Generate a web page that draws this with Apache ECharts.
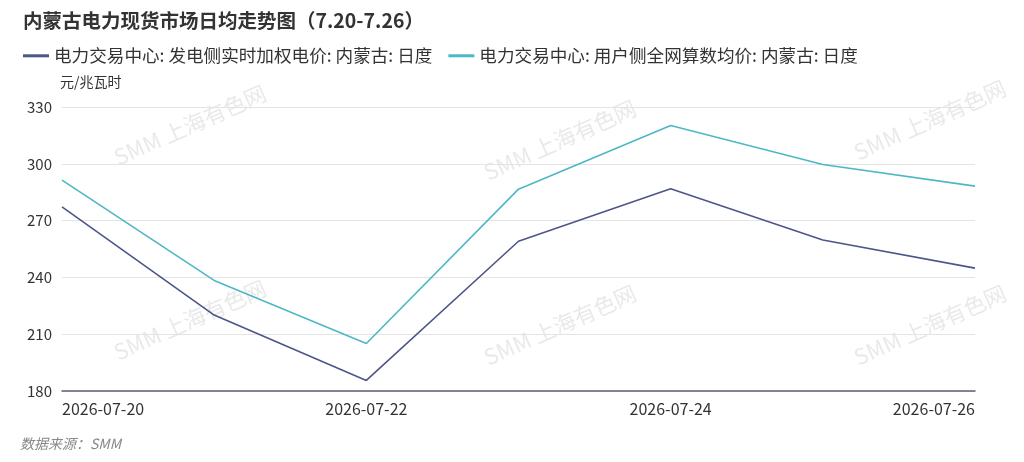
<!DOCTYPE html>
<html>
<head>
<meta charset="utf-8">
<script src="https://cdn.jsdelivr.net/npm/echarts@6/dist/echarts.min.js"></script>
<style>
html,body{margin:0;padding:0;background:#fff;}
#c{width:1024px;height:462px;}
</style>
</head>
<body>
<div id="c"></div>
<script>
const categories = ['2026-07-20','2026-07-21','2026-07-22','2026-07-23','2026-07-24','2026-07-25','2026-07-26'];
const genSidePrice = [277.3, 220.1, 185.6, 259.1, 286.8, 259.8, 244.9];
const userSidePrice = [291.4, 238.4, 205.1, 286.6, 320.2, 299.6, 288.2];
const seriesNames = ['电力交易中心: 发电侧实时加权电价: 内蒙古: 日度', '电力交易中心: 用户侧全网算数均价: 内蒙古: 日度'];
const yTicks = {min: 180, max: 330, interval: 30};

const font = '"Noto Sans CJK SC", "Noto Sans", sans-serif';
const chart = echarts.init(document.getElementById('c'));

const wmPos = [[190,125],[560,140],[930,120],[190,320],[560,325],[930,325]];
const watermarks = wmPos.map(p => ({
  type: 'text', x: p[0], y: p[1], rotation: Math.PI / 7.5, z: 0,
  style: {text: 'SMM 上海有色网', font: '22px ' + font, fill: 'rgba(200,200,200,0.4)', align: 'center', verticalAlign: 'middle'}
}));

chart.setOption({
  backgroundColor: '#fff',
  textStyle: {fontFamily: font},
  title: {
    text: '内蒙古电力现货市场日均走势图（7.20-7.26）',
    left: 18, top: 6,
    textStyle: {fontSize: 19.5, fontWeight: 'bold', color: '#333', fontFamily: font}
  },
  legend: {
    left: 18, top: 42,
    itemWidth: 26, itemHeight: 3, itemGap: 16,
    icon: 'rect',
    textStyle: {fontSize: 17.6, color: '#333', fontFamily: font},
    data: seriesNames
  },
  grid: {left: 62, right: 49, top: 107, bottom: 71, containLabel: false},
  xAxis: {
    type: 'category',
    data: categories,
    boundaryGap: false,
    axisLine: {lineStyle: {color: '#5a6080', width: 1.5}},
    axisTick: {show: false},
    axisLabel: {interval: 1, margin: 10, fontSize: 16, color: '#333', alignMinLabel: 'left', alignMaxLabel: 'right'}
  },
  yAxis: {
    type: 'value',
    min: yTicks.min, max: yTicks.max, interval: yTicks.interval,
    name: '元/兆瓦时',
    nameLocation: 'end',
    nameGap: 18,
    nameTextStyle: {align: 'left', fontSize: 14, color: '#333', padding: [0,0,0,-2]},
    axisLine: {show: false},
    axisTick: {show: false},
    axisLabel: {fontSize: 15, color: '#333', margin: 10},
    splitLine: {lineStyle: {color: '#e4e4e4', width: 1}}
  },
  graphic: watermarks,
  series: [
    {name: seriesNames[0], type: 'line', data: genSidePrice, symbol: 'none', smooth: false,
     lineStyle: {color: '#4d5689', width: 1.6}, itemStyle: {color: '#4d5689'}, z: 3},
    {name: seriesNames[1], type: 'line', data: userSidePrice, symbol: 'none', smooth: false,
     lineStyle: {color: '#4cb8c6', width: 1.6}, itemStyle: {color: '#4cb8c6'}, z: 3}
  ]
});

chart.setOption({graphic: watermarks.concat([{
  type: 'text', left: 20, top: 437, z: 5,
  style: {text: '数据来源：SMM', font: 'italic 14px ' + font, fill: '#888'}
}])});
</script>
</body>
</html>
